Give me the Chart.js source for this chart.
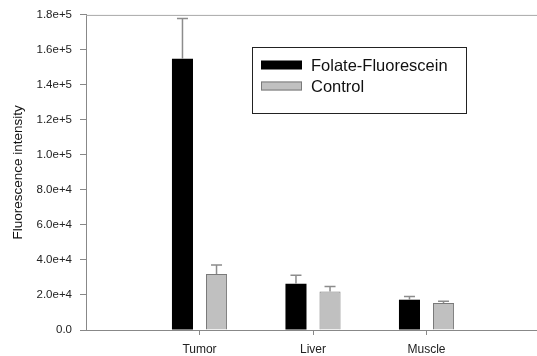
<!DOCTYPE html>
<html>
<head>
<meta charset="utf-8">
<script src="https://cdn.jsdelivr.net/npm/chart.js@4.4.0/dist/chart.umd.min.js"></script>
<style>
html,body{margin:0;padding:0;background:#fff;}
canvas{display:block;}
</style>
</head>
<body>
<canvas id="c" width="537" height="356"></canvas>
<script>
const categories = ['', 'Tumor', 'Liver', 'Muscle', ''];
const folateValues = [null, 155000, 26400, 17300, null];
const folateErrors = [null, 23000, 4900, 1900, null];
const controlValues = [null, 32000, 22000, 15400, null];
const controlErrors = [null, 5200, 2900, 1000, null];
const yTickLabels = ['0.0', '2.0e+4', '4.0e+4', '6.0e+4', '8.0e+4', '1.0e+5', '1.2e+5', '1.4e+5', '1.6e+5', '1.8e+5'];
const seriesNames = ['Folate-Fluorescein', 'Control'];
const yTitle = 'Fluorescence intensity';

const FONT = "'Liberation Sans', Arial, sans-serif";

const stretchPlugin = {
  id: 'stretch',
  afterLayout(chart) {
    const right = chart.width + 3;
    const x = chart.scales.x;
    x.right = right;
    x.width = right - x.left;
    x.configure();
    chart.chartArea.right = right;
    chart.chartArea.width = right - chart.chartArea.left;
  }
};

const errorBarPlugin = {
  id: 'errorBars',
  afterDatasetsDraw(chart) {
    const ctx = chart.ctx;
    const yScale = chart.scales.y;
    chart.data.datasets.forEach((ds, di) => {
      const meta = chart.getDatasetMeta(di);
      meta.data.forEach((bar, i) => {
        const v = ds.data[i];
        const e = ds.errors[i];
        if (v == null || e == null) return;
        const yTop = yScale.getPixelForValue(v + e);
        ctx.save();
        ctx.strokeStyle = '#8c8c8c';
        ctx.lineWidth = 1.5;
        ctx.beginPath();
        ctx.moveTo(bar.x, bar.y);
        ctx.lineTo(bar.x, yTop);
        ctx.moveTo(bar.x - 5.5, yTop);
        ctx.lineTo(bar.x + 5.5, yTop);
        ctx.stroke();
        ctx.restore();
      });
    });
  }
};

const framePlugin = {
  id: 'frame',
  afterDraw(chart) {
    const ctx = chart.ctx;
    const a = chart.chartArea;
    ctx.save();
    ctx.strokeStyle = '#a8a8a8';
    ctx.lineWidth = 1;
    ctx.beginPath();
    ctx.moveTo(a.left, a.top + 0.5);
    ctx.lineTo(chart.width, a.top + 0.5);
    ctx.stroke();
    ctx.strokeStyle = '#888';
    ctx.beginPath();
    ctx.moveTo(a.left, a.bottom + 0.5);
    ctx.lineTo(chart.width, a.bottom + 0.5);
    ctx.stroke();
    // legend box
    const bx = 252.5, by = 47.5, bw = 214, bh = 66;
    ctx.strokeStyle = '#222';
    ctx.lineWidth = 1;
    ctx.strokeRect(bx, by, bw, bh);
    ctx.font = '16.5px ' + FONT;
    ctx.textBaseline = 'middle';
    ctx.textAlign = 'left';
    const rows = [65, 86];
    chart.data.datasets.forEach((ds, i) => {
      const y = rows[i];
      ctx.fillStyle = ds.backgroundColor;
      ctx.fillRect(261, y - 4.5, 41, 9);
      if (ds.borderWidth) {
        ctx.strokeStyle = ds.borderColor;
        ctx.lineWidth = 1;
        ctx.strokeRect(261.5, y - 4, 40, 8);
      }
      ctx.fillStyle = '#111';
      ctx.fillText(ds.label, 311, y + 1);
    });
    ctx.restore();
  }
};

new Chart(document.getElementById('c'), {
  type: 'bar',
  data: {
    labels: categories,
    datasets: [
      {
        label: seriesNames[0],
        data: folateValues,
        errors: folateErrors,
        backgroundColor: '#000000',
        borderColor: '#000000',
        borderWidth: 0
      },
      {
        label: seriesNames[1],
        data: controlValues,
        errors: controlErrors,
        backgroundColor: '#c0c0c0',
        borderColor: '#7a7a7a',
        borderWidth: 1
      }
    ]
  },
  options: {
    responsive: false,
    animation: false,
    layout: { padding: { top: 14, right: 0, left: 0, bottom: 0 } },
    datasets: {
      bar: {
        categoryPercentage: 0.6,
        barPercentage: 0.618
      }
    },
    plugins: {
      legend: { display: false },
      tooltip: { enabled: false }
    },
    scales: {
      x: {
        offset: false,
        border: { display: true, color: '#888', width: 1 },
        grid: {
          offset: false,
          drawOnChartArea: false,
          drawTicks: true,
          tickLength: 5,
          color: (c) => (c.index === 0 || c.index === categories.length - 1) ? 'rgba(0,0,0,0)' : '#888'
        },
        ticks: {
          autoSkip: false,
          maxRotation: 0,
          padding: 7,
          color: '#222',
          font: { family: FONT, size: 12 }
        },
        afterFit(s) { s.height = 26; }
      },
      y: {
        min: 0,
        max: 180000,
        border: { display: true, color: '#888', width: 1 },
        grid: {
          drawOnChartArea: false,
          drawTicks: true,
          tickLength: 6,
          color: '#888'
        },
        ticks: {
          stepSize: 20000,
          padding: 8,
          color: '#222',
          font: { family: FONT, size: 11.5 },
          callback: (v, i) => yTickLabels[i]
        },
        title: {
          display: true,
          text: yTitle,
          color: '#111',
          font: { family: FONT, size: 13.5 },
          padding: { top: 10, bottom: 0 }
        },
        afterFit(s) { s.width = 86; }
      }
    }
  },
  plugins: [stretchPlugin, errorBarPlugin, framePlugin]
});
</script>
</body>
</html>
